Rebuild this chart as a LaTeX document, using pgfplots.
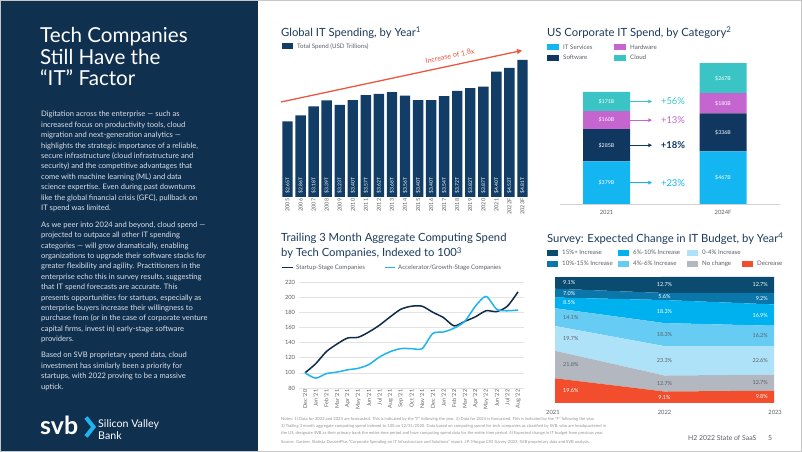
\documentclass[border=0pt]{standalone}
\usepackage{fontspec}
\setmainfont{Lato}
\usepackage{pgfplots}
\usepackage{pgfplotstable}
\pgfplotsset{compat=1.18}
\usetikzlibrary{arrows.meta}

\definecolor{panel}{HTML}{10304F}
\definecolor{titlec}{HTML}{1B3A5C}
\definecolor{bar1}{HTML}{113D66}
\definecolor{itserv}{HTML}{14B6F2}
\definecolor{soft}{HTML}{0F3760}
\definecolor{hard}{HTML}{C465D0}
\definecolor{cloudc}{HTML}{3BC4C6}
\definecolor{startc}{HTML}{0E2B4A}
\definecolor{accel}{HTML}{1DB4F0}
\definecolor{cA}{HTML}{0B4B70}
\definecolor{cB}{HTML}{0A76AA}
\definecolor{cC}{HTML}{00B1F0}
\definecolor{cD}{HTML}{66CCF4}
\definecolor{cE}{HTML}{AEE2F8}
\definecolor{nochg}{HTML}{B2B7C0}
\definecolor{decr}{HTML}{F24E2D}
\definecolor{arrowred}{HTML}{F0553F}
\definecolor{greytext}{HTML}{5A5F66}
\definecolor{bodytext}{HTML}{DCE1E8}

\newcommand{\fs}[2]{\fontsize{#1}{#2}\selectfont}
\newcommand{\legfont}{\fs{6.2}{7}}
\newcommand{\ttlfont}{\fs{11.3}{13}}

% global IT spending
\pgfplotstableread{
x val lbl
0  2.65 \$2.65T
1  2.86 \$2.86T
2  3.18 \$3.18T
3  3.39 \$3.39T
4  3.23 \$3.23T
5  3.40 \$3.40T
6  3.57 \$3.57T
7  3.62 \$3.62T
8  3.68 \$3.68T
9  3.56 \$3.56T
10 3.40 \$3.40T
11 3.40 \$3.40T
12 3.54 \$3.54T
13 3.72 \$3.72T
14 3.82 \$3.82T
15 3.87 \$3.87T
16 4.40 \$4.40T
17 4.53 \$4.53T
18 4.81 \$4.81T
}\itspend

\pgfplotsset{
  hidden/.style={scale only axis, hide axis, clip=false},
  lab/.style={draw=none, mark=none, nodes near coords, point meta=explicit symbolic},
}

\begin{document}
\begin{tikzpicture}[x=1bp,y=1bp]
\useasboundingbox (0,0) rectangle (802,452);
\fill[white] (0,0) rectangle (802,452);
\fill[panel] (0,0) rectangle (258,452);
\draw[gray!45, line width=1bp] (0.5,0.5) rectangle (801.5,451.5);

% ---- left panel text
\node[anchor=north west, inner sep=0pt, align=left, text=white, font=\fs{20.7}{21.6}]
  at (40,424.5) {Tech Companies\\Still Have the\\“IT” Factor};

\node[anchor=north west, inner sep=0pt, align=left, text=bodytext, font=\fs{7.6}{10.45}] at (41,341) {%
Digitation across the enterprise — such as\\
increased focus on productivity tools, cloud\\
migration and next-generation analytics —\\
highlights the strategic importance of a reliable,\\
secure infrastructure (cloud infrastructure and\\
security) and the competitive advantages that\\
come with machine learning (ML) and data\\
science expertise. Even during past downturns\\
like the global financial crisis (GFC), pullback on\\
IT spend was limited.};

\node[anchor=north west, inner sep=0pt, align=left, text=bodytext, font=\fs{7.6}{10.45}] at (41,230.5) {%
As we peer into 2024 and beyond, cloud spend —\\
projected to outpace all other IT spending\\
categories — will grow dramatically, enabling\\
organizations to upgrade their software stacks for\\
greater flexibility and agility. Practitioners in the\\
enterprise echo this in survey results, suggesting\\
that IT spend forecasts are accurate. This\\
presents opportunities for startups, especially as\\
enterprise buyers increase their willingness to\\
purchase from (or in the case of corporate venture\\
capital firms, invest in) early-stage software\\
providers.};

\node[anchor=north west, inner sep=0pt, align=left, text=bodytext, font=\fs{7.6}{10.45}] at (41,100) {%
Based on SVB proprietary spend data, cloud\\
investment has similarly been a priority for\\
startups, with 2022 proving to be a massive\\
uptick.};

% logo
\node[anchor=base west, inner sep=0pt, text=white, font=\fs{25}{25}\bfseries] at (40,17) {svb};
\draw[accel, line width=4bp, line cap=butt, line join=miter] (86,34.5) -- (93.5,25) -- (86,15.5);
\node[anchor=base west, inner sep=0pt, text=white, font=\fs{10.7}{10.7}] at (98,24.5) {Silicon Valley};
\node[anchor=base west, inner sep=0pt, text=white, font=\fs{10.7}{10.7}] at (98,12) {Bank};

% ---- chart 1: Global IT spending
\node[anchor=base west, inner sep=0pt, text=titlec, font=\ttlfont] at (281,415.3) {Global IT Spending, by Year\textsuperscript{1}};
\fill[bar1] (282,403) rectangle (293,408.5);
\node[anchor=west, inner sep=0pt, text=greytext, font=\legfont] at (297,405.7) {Total Spend (USD Trillions)};

\begin{axis}[
  at={(281bp,255bp)}, anchor=south west, scale only axis,
  width=248bp, height=142.5bp,
  xmin=-0.5, xmax=18.5, ymin=0, ymax=5,
  axis line style={draw=none}, tick style={draw=none},
  ytick=\empty,
  xtick={0,...,18},
  xticklabels={2005,2006,2007,2008,2009,2010,2011,2012,2013,2014,2015,2016,2017,2018,2019,2020,2021,2022F,2023F},
  xticklabel style={rotate=90, anchor=east, font=\fs{5.5}{6}, text=greytext, inner sep=1.5bp},
  clip=false,
]
\addplot[ybar, bar width=10.4bp, fill=bar1, draw=none] table[x=x, y=val] {\itspend};
\addplot[lab, every node near coord/.append style={rotate=90, anchor=west, inner xsep=3.5bp, inner ysep=0pt, text=white, font=\fs{5}{5}}]
  table[x=x, y expr=0, meta=lbl] {\itspend};
\end{axis}
\draw[arrowred, line width=1.3bp, -{Triangle[length=5bp,width=5bp]}] (281,350) -- (522,401.5);
\node[rotate=12, text=arrowred, font=\fs{7.2}{8}, inner sep=0pt] at (450,396) {Increase of 1.8x};

% ---- chart 2: US corporate IT spend
\node[anchor=base west, inner sep=0pt, text=titlec, font=\ttlfont] at (547,415.3) {US Corporate IT Spend, by Category\textsuperscript{2}};
\fill[itserv] (547,402) rectangle (559,408);
\node[anchor=west, inner sep=0pt, text=greytext, font=\legfont] at (563,405) {IT Services};
\fill[soft] (547,391.3) rectangle (559,397.3);
\node[anchor=west, inner sep=0pt, text=greytext, font=\legfont] at (563,394.3) {Software};
\fill[hard] (614,402) rectangle (626,408);
\node[anchor=west, inner sep=0pt, text=greytext, font=\legfont] at (630,405) {Hardware};
\fill[cloudc] (614,391.3) rectangle (626,397.3);
\node[anchor=west, inner sep=0pt, text=greytext, font=\legfont] at (630,394.3) {Cloud};

\begin{axis}[
  at={(560bp,248bp)}, anchor=south west, scale only axis,
  width=220bp, height=146.5bp,
  xmin=-0.399, xmax=1.489, ymin=0, ymax=1300,
  ybar stacked, bar width=47bp,
  axis x line*=bottom, axis y line=none,
  x axis line style={-, draw=gray!35},
  xtick={0,1}, xticklabels={2021,2024F}, xtick style={draw=none},
  xticklabel style={font=\fs{5.8}{6}, text=greytext, yshift=-2.5bp},
]
\addplot[fill=itserv, draw=none] coordinates {(0,379) (1,467)};
\addplot[fill=soft, draw=none] coordinates {(0,285) (1,336)};
\addplot[fill=hard, draw=none] coordinates {(0,160) (1,180)};
\addplot[fill=cloudc, draw=none] coordinates {(0,171) (1,267)};
\end{axis}
\begin{axis}[
  at={(560bp,248bp)}, anchor=south west, hidden,
  width=220bp, height=146.5bp,
  xmin=-0.399, xmax=1.489, ymin=0, ymax=1300,
]
\addplot[lab, every node near coord/.append style={anchor=center, text=white, font=\fs{5.3}{6}}] coordinates {
  (0,189.5) [\$379B] (0,521.5) [\$285B] (0,744) [\$160B] (0,909.5) [\$171B]
  (1,233.5) [\$467B] (1,635) [\$336B] (1,893) [\$180B] (1,1116.5) [\$267B]};
\draw[cloudc, line width=0.9bp, -{Triangle[length=3.5bp,width=3.5bp]}] (axis cs:0.202,909.5) -- (axis cs:0.39,909.5);
\draw[hard, line width=0.9bp, -{Triangle[length=3.5bp,width=3.5bp]}] (axis cs:0.202,744) -- (axis cs:0.39,744);
\draw[soft, line width=0.9bp, -{Triangle[length=3.5bp,width=3.5bp]}] (axis cs:0.202,521.5) -- (axis cs:0.39,521.5);
\draw[itserv, line width=0.9bp, -{Triangle[length=3.5bp,width=3.5bp]}] (axis cs:0.202,189.5) -- (axis cs:0.39,189.5);
\node[text=cloudc, font=\fs{9.5}{10}] at (axis cs:0.571,909.5) {+56\%};
\node[text=hard, font=\fs{9.5}{10}] at (axis cs:0.571,744) {+13\%};
\node[text=soft, font=\fs{9.5}{10}\bfseries] at (axis cs:0.571,521.5) {+18\%};
\node[text=itserv, font=\fs{9.5}{10}] at (axis cs:0.571,189.5) {+23\%};
\end{axis}

% ---- chart 3: trailing 3 month computing spend
\node[anchor=base west, inner sep=0pt, text=titlec, font=\ttlfont] at (281,210) {Trailing 3 Month Aggregate Computing Spend};
\node[anchor=base west, inner sep=0pt, text=titlec, font=\ttlfont] at (281,195) {by Tech Companies, Indexed to 100\textsuperscript{3}};
\draw[startc, line width=1.4bp] (282,184.3) -- (293,184.3);
\node[anchor=west, inner sep=0pt, text=greytext, font=\legfont] at (296,184.3) {Startup-Stage Companies};
\draw[accel, line width=1.4bp] (385,184.3) -- (395,184.3);
\node[anchor=west, inner sep=0pt, text=greytext, font=\legfont] at (398,184.3) {Accelerator/Growth-Stage Companies};

\begin{axis}[
  at={(298.6bp,64bp)}, anchor=south west, scale only axis,
  width=225.8bp, height=106bp,
  xmin=-0.6, xmax=20.6, ymin=80, ymax=220,
  ytick={80,100,...,220},
  ymajorgrids, grid style={draw=gray!22, line width=0.6bp},
  axis line style={draw=none}, tick style={draw=none},
  yticklabel style={font=\fs{5.8}{6}, text=greytext},
  /pgf/number format/assume math mode=true,
  xtick={0,...,20},
  xticklabels={Dec '20,Jan '21,Feb '21,Mar '21,Apr '21,May '21,Jun '21,Jul '21,Aug '21,Sep '21,Oct '21,Nov '21,Dec '21,Jan '22,Feb '22,Mar '22,Apr '22,May '22,Jun '22,Jul '22,Aug '22},
  xticklabel style={rotate=90, anchor=east, font=\fs{5.5}{6}, text=greytext, inner sep=1.5bp},
]
\addplot[startc, line width=1.5bp, mark=none, smooth, tension=0.45] coordinates {
  (0,100) (1,112) (2,128) (3,138) (4,146) (5,147) (6,154) (7,163) (8,174) (9,184) (10,188)
  (11,188) (12,180) (13,173) (14,162) (15,168) (16,174) (17,182) (18,181) (19,188) (20,207)};
\addplot[accel, line width=1.5bp, mark=none, smooth, tension=0.45] coordinates {
  (0,100) (1,93) (2,99) (3,101) (4,104) (5,106) (6,111) (7,121) (8,128) (9,132) (10,132)
  (11,132) (12,152) (13,154) (14,159) (15,168) (16,188) (17,201) (18,184) (19,182) (20,183)};
\end{axis}

% ---- chart 4: survey
\node[anchor=base west, inner sep=0pt, text=titlec, font=\ttlfont] at (547,209.3) {Survey: Expected Change in IT Budget, by Year\textsuperscript{4}};
\foreach \cx/\cy/\cc/\tt in {547/199.3/cA/15\%+ Increase, 547/188.3/cB/10\%-15\% Increase,
  618/199.3/cC/6\%-10\% Increase, 618/188.3/cD/4\%-6\% Increase,
  687/199.3/cE/0-4\% Increase, 687/188.3/nochg/No change, 742/188.3/decr/Decrease}{
  \fill[\cc] (\cx,\cy-3) rectangle ++(11,6);
  \node[anchor=west, inner sep=0pt, text=greytext, font=\legfont] at (\cx+15,\cy) {\tt};
}

\begin{axis}[
  at={(555bp,49bp)}, anchor=south west, scale only axis, hide axis,
  width=219bp, height=126bp,
  xmin=0, xmax=2, ymin=0, ymax=100,
  stack plots=y, area style,
]
\addplot[fill=decr, draw=none] coordinates {(0,19.6) (1,9.1) (2,9.8)} \closedcycle;
\addplot[fill=nochg, draw=none] coordinates {(0,21.8) (1,12.7) (2,12.7)} \closedcycle;
\addplot[fill=cE, draw=none] coordinates {(0,19.7) (1,23.3) (2,22.6)} \closedcycle;
\addplot[fill=cD, draw=none] coordinates {(0,14.1) (1,18.3) (2,16.2)} \closedcycle;
\addplot[fill=cC, draw=none] coordinates {(0,8.5) (1,18.3) (2,16.9)} \closedcycle;
\addplot[fill=cB, draw=none] coordinates {(0,7.0) (1,5.6) (2,9.2)} \closedcycle;
\addplot[fill=cA, draw=none] coordinates {(0,9.1) (1,12.7) (2,12.7)} \closedcycle;
\end{axis}
\begin{axis}[
  at={(555bp,49bp)}, anchor=south west, hidden,
  width=219bp, height=126bp,
  xmin=0, xmax=2, ymin=0, ymax=100,
  every node near coord/.append style={font=\fs{5.5}{6}, inner sep=0pt},
]
\addplot[lab, every node near coord/.append style={anchor=west, text=white}] coordinates {
  (0.073,95.25) [9.1\%] (0.073,87.2) [7.0\%] (0.073,79.45) [8.5\%] (0.073,9.8) [19.6\%]};
\addplot[lab, every node near coord/.append style={anchor=west, text=greytext}] coordinates {
  (0.073,68.15) [14.1\%] (0.073,51.25) [19.7\%] (0.073,30.5) [21.8\%]};
\addplot[lab, every node near coord/.append style={anchor=center, text=white}] coordinates {
  (1,93.65) [12.7\%] (1,84.5) [5.6\%] (1,72.55) [18.3\%] (1,4.55) [9.1\%]};
\addplot[lab, every node near coord/.append style={anchor=center, text=greytext}] coordinates {
  (1,54.25) [18.3\%] (1,33.45) [23.3\%] (1,15.45) [12.7\%]};
\addplot[lab, every node near coord/.append style={anchor=east, text=white}] coordinates {
  (1.945,93.75) [12.7\%] (1.945,82.8) [9.2\%] (1.945,69.75) [16.9\%] (1.945,4.9) [9.8\%]};
\addplot[lab, every node near coord/.append style={anchor=east, text=greytext}] coordinates {
  (1.945,53.2) [16.2\%] (1.945,33.8) [22.6\%] (1.945,16.15) [12.7\%]};
\end{axis}
\node[anchor=west, inner sep=0pt, text=greytext, font=\fs{5.8}{6}] at (546,40) {2021};
\node[anchor=center, inner sep=0pt, text=greytext, font=\fs{5.8}{6}] at (664.5,40) {2022};
\node[anchor=east, inner sep=0pt, text=greytext, font=\fs{5.8}{6}] at (782,40) {2023};

% ---- footer
\node[anchor=north west, inner sep=0pt, align=left, text=gray!85, font=\fs{4.15}{6.8}] at (281,34.8) {%
Notes: 1) Data for 2022 and 2023 are forecasted. This is indicated by the “F” following the year. 2) Data for 2024 is forecasted. This is indicated by the “F” following the year.\\
3) Trailing 3 month aggregate computing spend indexed to 100 on 12/31/2020. Data based on computing spend for tech companies as classified by SVB, who are headquartered in\\
the US, designate SVB as their primary bank the entire time period and have computing spend data for the entire time period. 4) Expected change in IT budget from previous year.};
\node[anchor=west, inner sep=0pt, text=gray!85, font=\fs{4.15}{5}] at (281,10) {Source: Gartner, Statista DossierPlus “Corporate Spending on IT Infrastructure and Solutions” report, J.P. Morgan CIO Survey 2022, SVB proprietary data and SVB analysis.};
\node[anchor=west, inner sep=0pt, text=greytext, font=\fs{6.9}{7}] at (688,14.3) {H2 2022 State of SaaS};
\node[anchor=west, inner sep=0pt, text=greytext, font=\fs{6.9}{7}] at (768,14.3) {5};
\end{tikzpicture}
\end{document}
